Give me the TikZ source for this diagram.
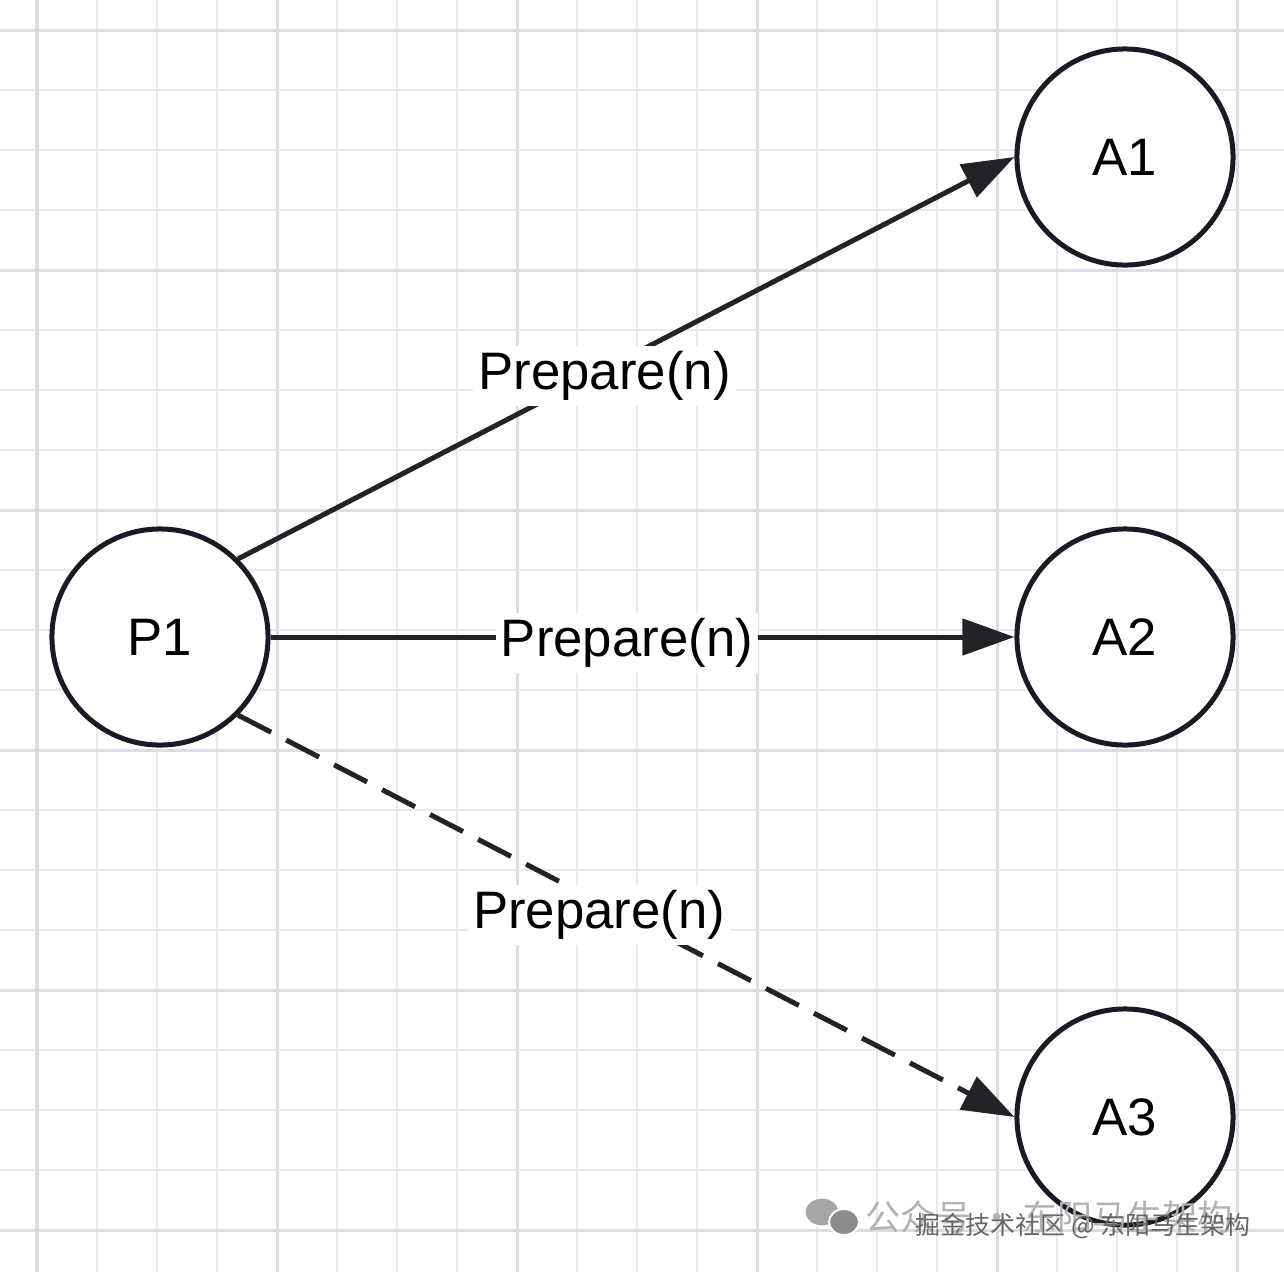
\documentclass[tikz,border=0pt]{standalone}
\usepackage{fontspec}
\setmainfont{Liberation Sans}
\newfontfamily\cjk{Noto Sans CJK SC}
\usetikzlibrary{arrows.meta}

\definecolor{gridminor}{RGB}{232,232,237}
\definecolor{gridmajor}{RGB}{220,220,226}
\definecolor{inkline}{RGB}{36,34,38}
\definecolor{inkcirc}{RGB}{26,26,38}

\begin{document}
\begin{tikzpicture}[x=0.01cm, y=-0.01cm, >={Triangle[length=0.52cm, width=0.36cm]},
  circ/.style={draw=inkcirc, circle, line width=0.05cm, minimum size=2.16cm, fill=white, font=\fontsize{15}{18}\selectfont},
  link/.style={->, draw=inkline, line width=0.05cm},
  lbl/.style={fill=white, inner sep=1.5pt, font=\fontsize{15}{18}\selectfont}]
\useasboundingbox (0,0) rectangle (1284,1272);
\fill[white] (0,0) rectangle (1284,1272);

% grid
\foreach \gx in {37,97,...,1284} \draw[gridminor, line width=0.02cm] (\gx,0) -- (\gx,1272);
\foreach \gy in {30,90,...,1272} \draw[gridminor, line width=0.02cm] (0,\gy) -- (1284,\gy);
\foreach \gx in {37,277,...,1284} \draw[gridmajor, line width=0.03cm] (\gx,0) -- (\gx,1272);
\foreach \gy in {30,270,...,1272} \draw[gridmajor, line width=0.03cm] (0,\gy) -- (1284,\gy);

\node[circ] (p1) at (160,637) {P1};
\node[circ] (a1) at (1125,157) {A1};
\node[circ] (a2) at (1125,637) {A2};
\node[circ] (a3) at (1125,1117) {A3};

\draw[link] (p1.north east) -- node[lbl, pos=0.472, yshift=-0.07cm] {Prepare(n)} (a1.west);
\draw[link] (p1.east) -- node[lbl, pos=0.479, yshift=-0.06cm] {Prepare(n)} (a2.west);
\draw[link, dash pattern=on 0.37cm off 0.17cm] (p1.south east) -- node[lbl, pos=0.465, yshift=-0.13cm] {Prepare(n)} (a3.west);

% watermark
\fill[black!35, draw=white, line width=0.01cm] (822,1212) ellipse (17 and 14);
\fill[black!45, draw=white, line width=0.02cm] (844,1222) ellipse (15 and 13);
\node[text=black!30, anchor=west, inner sep=0pt] (wm1) at (865,1217) {\cjk\fontsize{10}{12}\selectfont 公众号 · 东阳马生架构};
\node[text=black!60, anchor=west, inner sep=0pt] (wm2) at (915,1226) {\cjk\fontsize{7.1}{9}\selectfont 掘金技术社区 @ 东阳马生架构};
\end{tikzpicture}
\end{document}
